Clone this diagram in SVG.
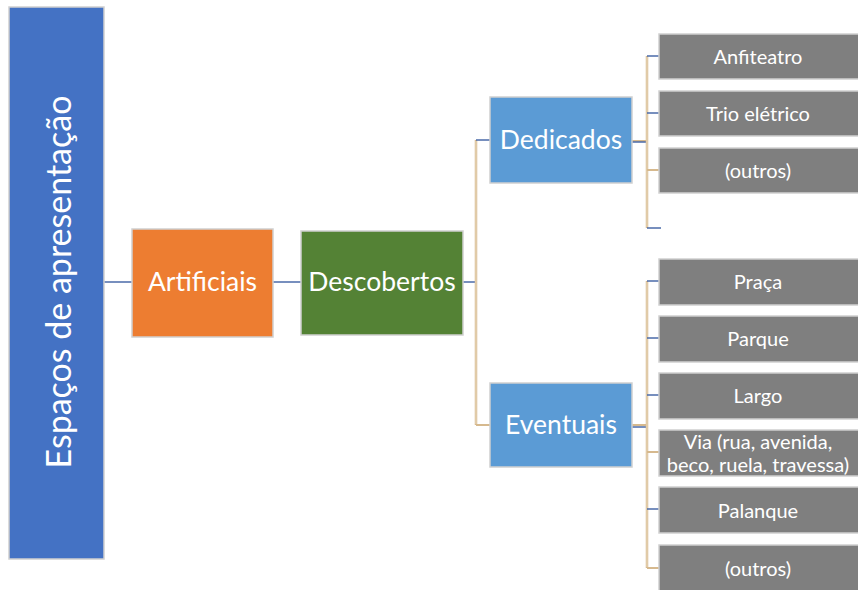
<svg xmlns="http://www.w3.org/2000/svg" width="858" height="590" viewBox="0 0 858 590">
  <style>
    .box { stroke: #d0d0d0; stroke-width: 1.5; }
    .lbl { font-family: Lato, "Liberation Sans", sans-serif; fill: #ffffff; text-anchor: middle; dominant-baseline: central; }
    .big { font-size: 26.5px; }
    .small { font-size: 20px; }
    .leaf { fill: #7f7f7f; }
    .blue { fill: #5b9bd5; }
    .trunk { stroke: #d6b98e; stroke-width: 2.5; fill: none; }
    .trunk-in { stroke: #f1e4cf; stroke-width: 0.8; fill: none; }
    .stub { stroke: #4a6aa8; stroke-width: 1.5; fill: none; }
    .stub-t { stroke: #d6b98e; stroke-width: 2; fill: none; }
  </style>
  <rect width="858" height="590" fill="#ffffff"/>

  <g id="connectors">
    <!-- root chain -->
    <line class="stub" x1="104" y1="282" x2="132" y2="282"/>
    <line class="stub" x1="273" y1="282" x2="301" y2="282"/>
    <line class="stub" x1="463" y1="282" x2="476" y2="282"/>
    <!-- Descobertos branch -->
    <line class="trunk" x1="476" y1="140" x2="476" y2="425"/>
    <line class="trunk-in" x1="476" y1="141" x2="476" y2="424"/>
    <line class="stub" x1="476" y1="140" x2="490" y2="140"/>
    <line class="stub-t" x1="476" y1="425" x2="490" y2="425"/>
    <!-- Dedicados branch -->
    <line class="stub-t" x1="632" y1="141" x2="647" y2="141"/>
    <line class="stub" x1="632" y1="142" x2="647" y2="142"/>
    <line class="trunk" x1="647" y1="56" x2="647" y2="228"/>
    <line class="trunk-in" x1="647" y1="57" x2="647" y2="227"/>
    <line class="stub" x1="647" y1="56" x2="659" y2="56"/>
    <line class="stub" x1="647" y1="113" x2="659" y2="113"/>
    <line class="stub-t" x1="647" y1="170" x2="659" y2="170"/>
    <line class="stub" x1="647" y1="228" x2="661" y2="228"/>
    <!-- Eventuais branch -->
    <line class="stub-t" x1="632" y1="425" x2="647" y2="425"/>
    <line class="stub" x1="632" y1="427" x2="647" y2="427"/>
    <line class="trunk" x1="647" y1="281" x2="647" y2="568"/>
    <line class="trunk-in" x1="647" y1="282" x2="647" y2="567"/>
    <line class="stub" x1="647" y1="281" x2="659" y2="281"/>
    <line class="stub" x1="647" y1="338" x2="659" y2="338"/>
    <line class="stub" x1="647" y1="395" x2="659" y2="395"/>
    <line class="stub-t" x1="647" y1="452" x2="659" y2="452"/>
    <line class="stub" x1="647" y1="509" x2="659" y2="509"/>
    <line class="stub-t" x1="647" y1="568" x2="659" y2="568"/>
  </g>

  <g id="root">
    <rect class="box" x="9" y="7" width="95" height="552" fill="#4472c4"/>
    <text class="lbl" x="0" y="0" font-size="34" transform="translate(57 282) rotate(-90)">Espaços de apresentação</text>
  </g>

  <g id="artificiais">
    <rect class="box" x="132" y="229" width="141" height="108" fill="#ed7d31"/>
    <text class="lbl big" x="202.5" y="281">Artificiais</text>
  </g>

  <g id="descobertos">
    <rect class="box" x="301" y="231" width="162" height="104" fill="#548235"/>
    <text class="lbl big" x="382" y="281">Descobertos</text>
  </g>

  <g id="dedicados">
    <rect class="box blue" x="490" y="97" width="142" height="86"/>
    <text class="lbl big" x="561" y="139">Dedicados</text>
  </g>

  <g id="eventuais">
    <rect class="box blue" x="490" y="383" width="142" height="84"/>
    <text class="lbl big" x="561" y="424">Eventuais</text>
  </g>

  <g id="anfiteatro">
    <rect class="box leaf" x="659" y="34" width="205" height="45"/>
    <text class="lbl small" x="758" y="56">Anfiteatro</text>
  </g>
  <g id="trio-eletrico">
    <rect class="box leaf" x="659" y="91" width="205" height="45"/>
    <text class="lbl small" x="758" y="113">Trio elétrico</text>
  </g>
  <g id="outros-dedicados">
    <rect class="box leaf" x="659" y="148" width="205" height="45"/>
    <text class="lbl small" x="758" y="170">(outros)</text>
  </g>

  <g id="praca">
    <rect class="box leaf" x="659" y="259" width="205" height="46"/>
    <text class="lbl small" x="758" y="281">Praça</text>
  </g>
  <g id="parque">
    <rect class="box leaf" x="659" y="316" width="205" height="46"/>
    <text class="lbl small" x="758" y="338">Parque</text>
  </g>
  <g id="largo">
    <rect class="box leaf" x="659" y="373" width="205" height="46"/>
    <text class="lbl small" x="758" y="395">Largo</text>
  </g>
  <g id="via">
    <rect class="box leaf" x="659" y="430" width="205" height="46"/>
    <text class="lbl small" x="758" y="441">Via (rua, avenida,</text>
    <text class="lbl small" x="758" y="464">beco, ruela, travessa)</text>
  </g>
  <g id="palanque">
    <rect class="box leaf" x="659" y="487" width="205" height="46"/>
    <text class="lbl small" x="758" y="510">Palanque</text>
  </g>
  <g id="outros-eventuais">
    <rect class="box leaf" x="659" y="545" width="205" height="50"/>
    <text class="lbl small" x="758" y="568">(outros)</text>
  </g>
</svg>
